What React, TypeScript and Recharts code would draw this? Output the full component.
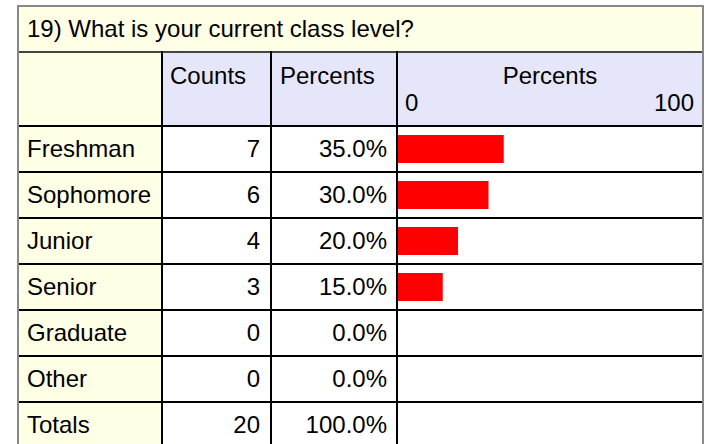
import { BarChart, Bar, XAxis, YAxis } from "recharts";

const title = "19) What is your current class level?";
const categories = ["Freshman", "Sophomore", "Junior", "Senior", "Graduate", "Other"];
const counts = [7, 6, 4, 3, 0, 0];
const percents = [35, 30, 20, 15, 0, 0];
const totalCount = 20;
const totalPercent = 100;
const axisTicks = [0, 100];

const chartData = categories.map((name, i) => ({ name, percent: percents[i] }));

// layout of the table grid
const colX = [17, 161, 270, 396, 702];
const titleTop = 5;
const headTop = 51;
const bodyTop = 125;
const rowH = 46;
const bottom = 470;

const font = '"Liberation Sans", Arial, sans-serif';
const yellow = "#ffffe6";
const lavender = "#e6e6fa";

function Cell({ x, y, w, h, bg, children, align = "left", pad = 8 }: any) {
  return (
    <div
      style={{
        position: "absolute",
        left: x,
        top: y,
        width: w,
        height: h,
        background: bg,
        display: "flex",
        alignItems: "center",
        justifyContent: align === "right" ? "flex-end" : "flex-start",
        paddingLeft: align === "right" ? 0 : pad,
        paddingRight: align === "right" ? pad : 0,
        boxSizing: "border-box",
        whiteSpace: "nowrap",
      }}
    >
      {children}
    </div>
  );
}

function Line({ x, y, w, h, c = "#000" }: any) {
  return <div style={{ position: "absolute", left: x, top: y, width: w, height: h, background: c }} />;
}

export default function App() {
  const rows = [
    ...categories.map((c, i) => ({ label: c, count: String(counts[i]), pct: percents[i].toFixed(1) + "%" })),
    { label: "Totals", count: String(totalCount), pct: totalPercent.toFixed(1) + "%" },
  ];
  const inner = (i: number) => ({ x: colX[i] + 2, w: colX[i + 1] - colX[i] - 2 });

  return (
    <div
      style={{
        position: "absolute",
        left: 0,
        top: 0,
        width: 709,
        height: 444,
        overflow: "hidden",
        background: "#fff",
        fontFamily: font,
        fontSize: 24,
        color: "#000",
      }}
    >
      {/* title row */}
      <Cell x={colX[0] + 2} y={titleTop + 2} w={colX[4] - colX[0] - 2} h={headTop - titleTop - 2} bg={yellow} pad={8}>
        {title}
      </Cell>

      {/* header row */}
      <div style={{ position: "absolute", left: inner(0).x, top: headTop + 2, width: inner(0).w, height: bodyTop - headTop - 2, background: yellow }} />
      {[1, 2, 3].map((i) => (
        <div key={i} style={{ position: "absolute", left: inner(i).x, top: headTop + 2, width: inner(i).w, height: bodyTop - headTop - 2, background: lavender }} />
      ))}
      <div style={{ position: "absolute", left: 170, top: 62, lineHeight: "27px" }}>Counts</div>
      <div style={{ position: "absolute", left: 280, top: 62, lineHeight: "27px" }}>Percents</div>
      <div style={{ position: "absolute", left: inner(3).x, width: inner(3).w, top: 62, lineHeight: "27px", textAlign: "center" }}>
        Percents
      </div>
      <div style={{ position: "absolute", left: 405, top: 89, lineHeight: "27px" }}>{axisTicks[0]}</div>
      <div style={{ position: "absolute", right: 709 - 694, top: 89, lineHeight: "27px" }}>{axisTicks[1]}</div>

      {/* body rows */}
      {rows.map((r, i) => {
        const y = bodyTop + i * rowH + 2;
        const h = rowH - 2;
        return (
          <div key={r.label}>
            <Cell x={inner(0).x} y={y} w={inner(0).w} h={h} bg={yellow} pad={8}>
              {r.label}
            </Cell>
            <Cell x={inner(1).x} y={y} w={inner(1).w} h={h} bg="#fff" align="right" pad={10}>
              {r.count}
            </Cell>
            <Cell x={inner(2).x} y={y} w={inner(2).w} h={h} bg="#fff" align="right" pad={9}>
              {r.pct}
            </Cell>
          </div>
        );
      })}

      {/* bars */}
      <div style={{ position: "absolute", left: colX[3] + 1, top: bodyTop + 1 }}>
        <BarChart
          width={colX[4] - colX[3] - 1}
          height={rowH * categories.length}
          data={chartData}
          layout="vertical"
          margin={{ top: 0, right: 0, bottom: 0, left: 0 }}
          barSize={28}
        >
          <XAxis type="number" domain={[axisTicks[0], axisTicks[1]]} hide />
          <YAxis type="category" dataKey="name" hide />
          <Bar dataKey="percent" fill="#ff0000" isAnimationActive={false} />
        </BarChart>
      </div>

      {/* grid lines */}
      <Line x={colX[0]} y={headTop} w={colX[4] - colX[0]} h={2} c="#444" />
      {[0, 1, 2, 3, 4, 5, 6].map((i) => (
        <Line key={i} x={colX[0]} y={bodyTop + i * rowH} w={colX[4] - colX[0]} h={2} />
      ))}
      {[1, 2, 3].map((i) => (
        <Line key={i} x={colX[i]} y={headTop} w={2} h={bottom - headTop} />
      ))}
      {/* outer border */}
      <Line x={colX[0]} y={titleTop} w={colX[4] - colX[0] + 2} h={2} c="#888" />
      <Line x={colX[0]} y={titleTop} w={2} h={bottom} c="#888" />
      <Line x={colX[4]} y={titleTop} w={2} h={bottom} c="#888" />
    </div>
  );
}
